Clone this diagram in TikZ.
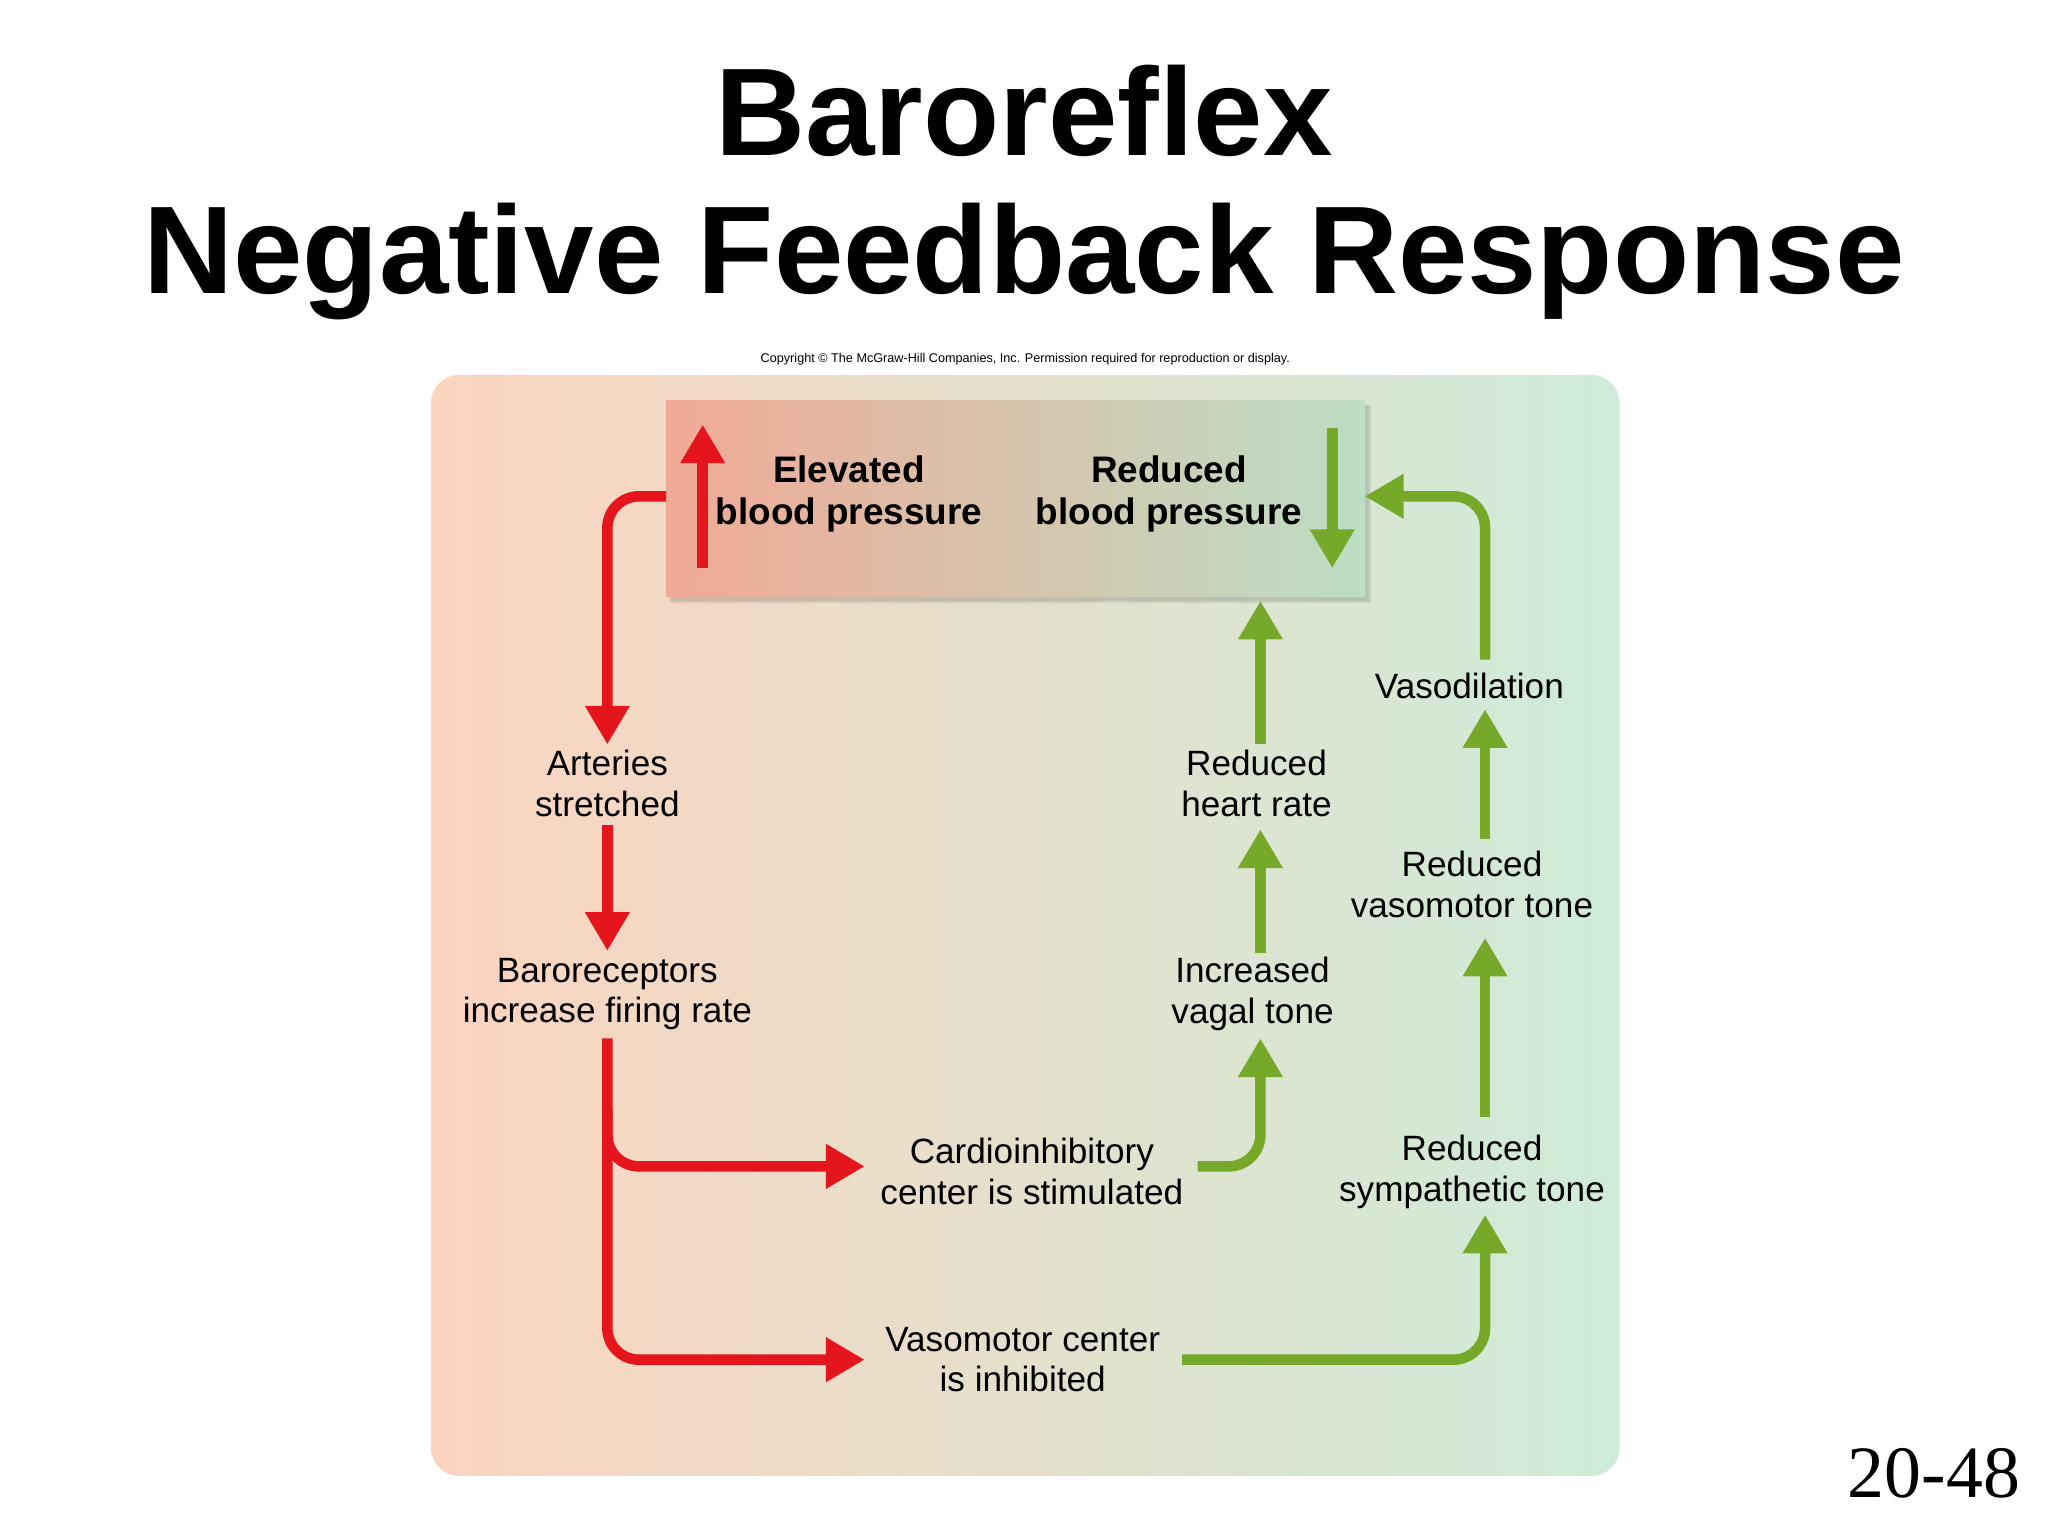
\documentclass[tikz,border=0pt]{standalone}
\usepackage{fontspec}
\setmainfont{Liberation Sans}
\newfontfamily\serifnum{Liberation Serif}
\usetikzlibrary{arrows.meta,shadows}
\definecolor{rd}{RGB}{228,22,28}
\definecolor{gn}{RGB}{118,168,42}
\definecolor{bgl}{RGB}{251,212,192}
\definecolor{bgm}{RGB}{246,228,205}
\definecolor{bgr}{RGB}{206,236,216}
\definecolor{bxl}{RGB}{240,170,150}
\definecolor{bxm}{RGB}{232,205,180}
\definecolor{bxr}{RGB}{188,222,196}
\begin{document}
\begin{tikzpicture}[x=0.013061cm,y=-0.013061cm,
  lbl/.style={align=center,font=\fontsize{10}{11.6}\selectfont,inner sep=0pt},
  ra/.style={draw=rd,line width=3pt,-{Triangle[length=11pt,width=12pt]},rounded corners=9pt},
  ga/.style={draw=gn,line width=3pt,-{Triangle[length=11pt,width=12pt]},rounded corners=9pt}]
\useasboundingbox (0,0) rectangle (1568,1176);
\fill[white] (0,0) rectangle (1568,1176);
\node[font=\bfseries\fontsize{35.5}{40}\selectfont] (t1) at (784,85) {Baroreflex};
\node[font=\bfseries\fontsize{35.5}{40}\selectfont] (t2) at (784,200) {Negative Feedback Response};
\node[font=\fontsize{3.6}{5}\selectfont] (cp) at (785,275) {Copyright © The McGraw-Hill Companies, Inc. Permission required for reproduction or display.};
\node[font=\serifnum\fontsize{21}{24}\selectfont,anchor=east] (pg) at (1556,1128) {20-48};
\shade[left color=bgl,middle color=bgm,right color=bgr,rounded corners=8pt] (330,287) rectangle (1240,1130);
\fill[black,opacity=0.08] (514,311) rectangle (1050,462);
\fill[black,opacity=0.08] (512,309) rectangle (1048,460);
\shade[left color=bxl,middle color=bxm,right color=bxr] (510,307) rectangle (1045,457);
\coordinate (boxL) at (510,380);
\coordinate (boxB) at (965,460);
\coordinate (boxR) at (1045,380);
\node[lbl,font=\bfseries\fontsize{10.5}{12}\selectfont] (elev) at (650,378) {Elevated\\blood pressure};
\node[lbl,font=\bfseries\fontsize{10.5}{12}\selectfont] (redbp) at (895,378) {Reduced\\blood pressure};
\coordinate (u1) at (538,435); \coordinate (u2) at (538,325);
\coordinate (d1) at (1020,328); \coordinate (d2) at (1020,435);
\draw[ra,rounded corners=0pt] (u1) -- (u2);
\draw[ga,rounded corners=0pt] (d1) -- (d2);
\node[lbl] (art) at (465,600) {Arteries\\stretched};
\node[lbl] (baro) at (465,761) {Baroreceptors\\increase firing rate};
\node[lbl] (card) at (790,897) {Cardioinhibitory\\center is stimulated};
\node[lbl] (vmc) at (783,1041) {Vasomotor center\\is inhibited};
\node[lbl] (vag) at (959,761) {Increased\\vagal tone};
\node[lbl] (hr) at (962,600) {Reduced\\heart rate};
\node[lbl] (vd) at (1125,525) {Vasodilation};
\node[lbl] (vt) at (1127,677) {Reduced\\vasomotor tone};
\node[lbl] (st) at (1127,897) {Reduced\\sympathetic tone};
\draw[ra] (boxL) -- (465,380) -- (465,570);
\draw[ra] (465,632) -- (465,728);
\draw[ra] (465,795) -- (465,1041) -- (662,1041);
\draw[ra] (465,850) -- (465,893) -- (662,893);
\draw[ga] (917,893) -- (965,893) -- (965,795);
\draw[ga] (965,730) -- (965,635);
\draw[ga] (965,570) -- (boxB);
\draw[ga] (905,1041) -- (1137,1041) -- (1137,930);
\draw[ga] (1137,855) -- (1137,718);
\draw[ga] (1137,642) -- (1137,543);
\draw[ga] (1137,505) -- (1137,380) -- (boxR);
\end{tikzpicture}
\end{document}
